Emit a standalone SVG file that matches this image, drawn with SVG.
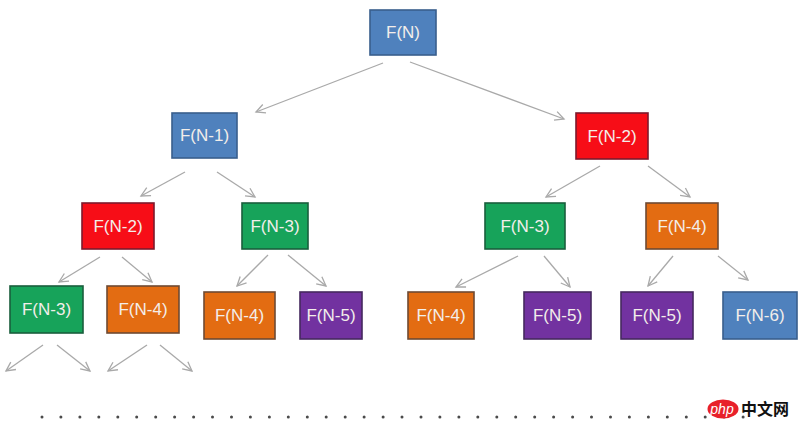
<svg xmlns="http://www.w3.org/2000/svg" width="800" height="429" viewBox="0 0 800 429">
<style>
.b{stroke-width:1.6}
.blue{fill:#4f81bd;stroke:#395e8c}
.red{fill:#f70d17;stroke:#7d1a2c}
.green{fill:#17a35a;stroke:#1a5e3c}
.orange{fill:#e36c12;stroke:#6e4a33}
.purple{fill:#7232a0;stroke:#45295e}
.t{font-family:"Liberation Sans",Arial,sans-serif;font-size:17px;fill:#f3eeea;text-anchor:middle;dominant-baseline:central}
.c line{stroke:#a9a9a9;stroke-width:1.3;marker-end:url(#ah)}
.dot{fill:#4a4a4a}
</style>
<defs>
<marker id="ah" markerUnits="userSpaceOnUse" markerWidth="12" markerHeight="12" refX="10" refY="5" orient="auto" viewBox="0 0 12 10">
<path d="M1,0.5 L10,5 L1,9.5" fill="none" stroke="#a9a9a9" stroke-width="1.3"/>
</marker>
</defs>
<rect width="800" height="429" fill="#ffffff"/>
<g class="c" id="connectors">
<line x1="383" y1="63" x2="256" y2="112"/>
<line x1="410" y1="62" x2="564" y2="119"/>
<line x1="185" y1="172" x2="141" y2="196"/>
<line x1="217" y1="172" x2="255" y2="197"/>
<line x1="600" y1="166" x2="546" y2="197"/>
<line x1="648" y1="166" x2="690" y2="197"/>
<line x1="100" y1="257" x2="59" y2="282"/>
<line x1="122" y1="257" x2="152" y2="282"/>
<line x1="268" y1="255" x2="237" y2="286"/>
<line x1="288" y1="255" x2="326" y2="286"/>
<line x1="518" y1="256" x2="456" y2="287"/>
<line x1="544" y1="256" x2="570" y2="287"/>
<line x1="673" y1="256" x2="648" y2="286"/>
<line x1="718" y1="256" x2="748" y2="280"/>
<line x1="43" y1="345" x2="6" y2="371"/>
<line x1="57" y1="345" x2="90" y2="371"/>
<line x1="147" y1="345" x2="108" y2="371"/>
<line x1="160" y1="345" x2="192" y2="371"/>
</g>
<g id="n0"><rect class="b blue" x="370" y="10" width="66" height="45"/><text class="t" x="403" y="32.5">F(N)</text></g>
<g id="n1"><rect class="b blue" x="172" y="113" width="65" height="45"/><text class="t" x="204.5" y="135.5">F(N-1)</text></g>
<g id="n2"><rect class="b red" x="576" y="113" width="72" height="46"/><text class="t" x="612" y="136">F(N-2)</text></g>
<g id="n3"><rect class="b red" x="82" y="203" width="72" height="46"/><text class="t" x="118" y="226">F(N-2)</text></g>
<g id="n4"><rect class="b green" x="242" y="203" width="66" height="46"/><text class="t" x="275" y="226">F(N-3)</text></g>
<g id="n5"><rect class="b green" x="485" y="203" width="80" height="46"/><text class="t" x="525" y="226">F(N-3)</text></g>
<g id="n6"><rect class="b orange" x="646" y="203" width="72" height="46"/><text class="t" x="682" y="226">F(N-4)</text></g>
<g id="n7"><rect class="b green" x="10" y="286" width="73" height="47"/><text class="t" x="46.5" y="309.5">F(N-3)</text></g>
<g id="n8"><rect class="b orange" x="107" y="286" width="72" height="47"/><text class="t" x="143" y="309.5">F(N-4)</text></g>
<g id="n9"><rect class="b orange" x="204" y="292" width="71" height="47"/><text class="t" x="239.5" y="315.5">F(N-4)</text></g>
<g id="n10"><rect class="b purple" x="300" y="292" width="62" height="47"/><text class="t" x="331" y="315.5">F(N-5)</text></g>
<g id="n11"><rect class="b orange" x="408" y="292" width="66" height="47"/><text class="t" x="441" y="315.5">F(N-4)</text></g>
<g id="n12"><rect class="b purple" x="524" y="292" width="67" height="47"/><text class="t" x="557.5" y="315.5">F(N-5)</text></g>
<g id="n13"><rect class="b purple" x="621" y="292" width="72" height="47"/><text class="t" x="657" y="315.5">F(N-5)</text></g>
<g id="n14"><rect class="b blue" x="723" y="292" width="74" height="47"/><text class="t" x="760" y="315.5">F(N-6)</text></g>
<g id="dots">
<circle class="dot" cx="42" cy="417" r="1.5"/><circle class="dot" cx="60.9" cy="417" r="1.5"/><circle class="dot" cx="79.9" cy="417" r="1.5"/><circle class="dot" cx="98.8" cy="417" r="1.5"/><circle class="dot" cx="117.8" cy="417" r="1.5"/><circle class="dot" cx="136.7" cy="417" r="1.5"/><circle class="dot" cx="155.7" cy="417" r="1.5"/><circle class="dot" cx="174.6" cy="417" r="1.5"/><circle class="dot" cx="193.6" cy="417" r="1.5"/><circle class="dot" cx="212.5" cy="417" r="1.5"/><circle class="dot" cx="231.5" cy="417" r="1.5"/><circle class="dot" cx="250.4" cy="417" r="1.5"/><circle class="dot" cx="269.4" cy="417" r="1.5"/><circle class="dot" cx="288.3" cy="417" r="1.5"/><circle class="dot" cx="307.3" cy="417" r="1.5"/><circle class="dot" cx="326.2" cy="417" r="1.5"/><circle class="dot" cx="345.2" cy="417" r="1.5"/><circle class="dot" cx="364.1" cy="417" r="1.5"/><circle class="dot" cx="383.1" cy="417" r="1.5"/><circle class="dot" cx="402" cy="417" r="1.5"/><circle class="dot" cx="421" cy="417" r="1.5"/><circle class="dot" cx="439.9" cy="417" r="1.5"/><circle class="dot" cx="458.9" cy="417" r="1.5"/><circle class="dot" cx="477.8" cy="417" r="1.5"/><circle class="dot" cx="496.8" cy="417" r="1.5"/><circle class="dot" cx="515.7" cy="417" r="1.5"/><circle class="dot" cx="534.7" cy="417" r="1.5"/><circle class="dot" cx="553.6" cy="417" r="1.5"/><circle class="dot" cx="572.6" cy="417" r="1.5"/><circle class="dot" cx="591.5" cy="417" r="1.5"/><circle class="dot" cx="610.5" cy="417" r="1.5"/><circle class="dot" cx="629.4" cy="417" r="1.5"/><circle class="dot" cx="648.4" cy="417" r="1.5"/><circle class="dot" cx="667.3" cy="417" r="1.5"/><circle class="dot" cx="686.3" cy="417" r="1.5"/><circle class="dot" cx="705.2" cy="417" r="1.5"/><circle class="dot" cx="724.2" cy="417" r="1.5"/><circle class="dot" cx="743.1" cy="417" r="1.5"/>
</g>
<g id="watermark">
<ellipse cx="723" cy="409" rx="15.5" ry="9.5" fill="#e8202a"/>
<text x="722" y="413.5" font-family="'Liberation Sans',Arial,sans-serif" font-size="14" font-style="italic" fill="#ffffff" text-anchor="middle">php</text>
<text x="741" y="415" font-family="'Noto Sans CJK SC',sans-serif" font-size="16" font-weight="bold" fill="#111111">中文网</text>
</g>
</svg>
